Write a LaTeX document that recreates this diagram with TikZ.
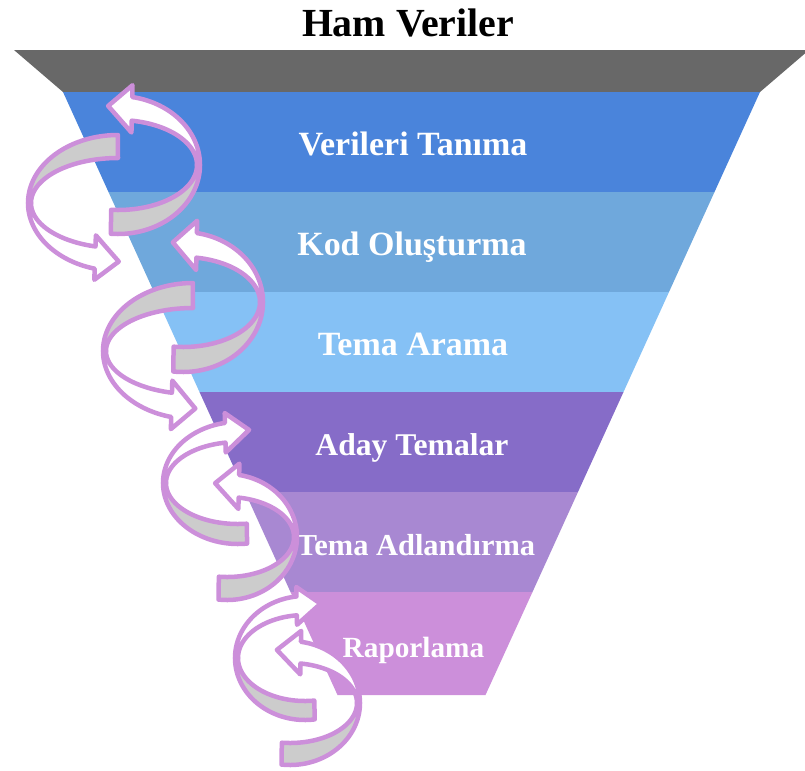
\documentclass[tikz,border=0pt]{standalone}
\usepackage{fontspec}
\setmainfont{Liberation Serif}
\usetikzlibrary{calc}
\definecolor{topgray}{HTML}{686868}
\definecolor{bandA}{HTML}{4A84DB}
\definecolor{bandB}{HTML}{6FA8DC}
\definecolor{bandC}{HTML}{85C1F5}
\definecolor{bandD}{HTML}{866CC8}
\definecolor{bandE}{HTML}{A888D2}
\definecolor{bandF}{HTML}{CC8FDA}
\definecolor{ribbonedge}{HTML}{CC8FDA}
\definecolor{ribbonfill}{HTML}{CCCCCC}
\begin{document}
\begin{tikzpicture}[x=0.03cm, y=-0.03cm, line join=round, line cap=round,
	backpart/.style={draw=ribbonedge, fill=ribbonfill, line width=1.35mm},
	frontpart/.style={draw=ribbonedge, fill=white, line width=1.35mm},
	stage/.style={text=white, font=\fontsize{#1}{#1}\selectfont\bfseries, anchor=base, inner sep=0pt}]
	\useasboundingbox (0,0) rectangle (805,770);
	\def\backhalf#1#2#3#4#5#6#7{%
		\draw[backpart] plot[domain=0:1, samples=40, variable=\s] ({#1+#3*cos(#6+(#7-#6)*\s)}, {#2+#4*sin(#6+(#7-#6)*\s)})
			-- plot[domain=0:1, samples=40, variable=\s] ({#1+(#3-3)*cos(#7+(#6-#7)*\s)}, {#2+#5*sin(#7+(#6-#7)*\s)}) -- cycle;}
	\def\fronthalf#1#2#3#4#5#6#7{%
		\pgfmathsetmacro\ox{#1+#3*cos(#7)}%
		\pgfmathsetmacro\oy{#2+#4*sin(#7)}%
		\pgfmathsetmacro\ix{#1+(#3-3)*cos(#7)}%
		\pgfmathsetmacro\iy{#2+#5*sin(#7)}%
		\pgfmathsetmacro\tang{atan2(sign(#7-#6)*0.5*(#4+#5)*cos(#7), -sign(#7-#6)*#3*sin(#7))}%
		\coordinate (tipout) at (\ox,\oy);
		\coordinate (tipin) at (\ix,\iy);
		\draw[frontpart] plot[domain=0:1, samples=40, variable=\s] ({#1+#3*cos(#6+(#7-#6)*\s)}, {#2+#4*sin(#6+(#7-#6)*\s)})
			-- ($(tipout)!-0.5!(tipin)$) -- ($(tipout)!0.5!(tipin)+(\tang:24)$) -- ($(tipin)!-0.5!(tipout)$) -- (tipin)
			-- plot[domain=0:1, samples=40, variable=\s] ({#1+(#3-3)*cos(#7+(#6-#7)*\s)}, {#2+#5*sin(#7+(#6-#7)*\s)}) -- cycle;}
	\coordinate (G1) at (14,50);
	\coordinate (G2) at (809,50);
	\coordinate (L0) at (63,92);
	\coordinate (R0) at (760,92);
	\coordinate (L1) at (108.5,192);
	\coordinate (R1) at (714.5,192);
	\coordinate (L2) at (154,292);
	\coordinate (R2) at (669,292);
	\coordinate (L3) at (199.5,392);
	\coordinate (R3) at (623.5,392);
	\coordinate (L4) at (245,492);
	\coordinate (R4) at (578,492);
	\coordinate (L5) at (290.5,592);
	\coordinate (R5) at (532.5,592);
	\coordinate (L6) at (337.5,695);
	\coordinate (R6) at (485.5,695);
	\fill[topgray] (G1)--(G2)--(R0)--(L0)--cycle;
	\fill[bandA] (L0)--(R0)--(R1)--(L1)--cycle;
	\fill[bandB] (L1)--(R1)--(R2)--(L2)--cycle;
	\fill[bandC] (L2)--(R2)--(R3)--(L3)--cycle;
	\fill[bandD] (L3)--(R3)--(R4)--(L4)--cycle;
	\fill[bandE] (L4)--(R4)--(R5)--(L5)--cycle;
	\fill[bandF] (L5)--(R5)--(R6)--(L6)--cycle;
	\node[anchor=base, inner sep=0pt, font=\fontsize{34}{40}\selectfont\bfseries] (ham) at (408,36) {Ham Veriler};
	\node[stage=29] (tanima) at (413,155) {Verileri Tanıma};
	\node[stage=29] (kod) at (412,255) {Kod Oluşturma};
	\node[stage=29] (arama) at (413,355) {Tema Arama};
	\node[stage=27] (aday) at (412,455) {Aday Temalar};
	\node[stage=26] (adlandirma) at (416,555) {Tema Adlandırma};
	\node[stage=25] (rapor) at (413.5,657) {Raporlama};
	\backhalf{118}{165}{82}{69}{45}{0}{95}
	\fronthalf{118}{165}{82}{69}{45}{0}{-80}
	\backhalf{118}{203}{90}{68}{45}{180}{270}
	\fronthalf{118}{203}{90}{68}{45}{180}{105}
	\backhalf{183}{302}{80}{70}{45}{0}{97}
	\fronthalf{183}{302}{80}{70}{45}{0}{-80}
	\backhalf{193}{351}{90}{68}{43}{180}{270}
	\fronthalf{193}{351}{90}{68}{43}{180}{104}
	\backhalf{238}{483}{75}{61}{41}{180}{83}
	\fronthalf{238}{483}{75}{61}{41}{180}{260}
	\backhalf{227}{537}{70}{63}{40}{0}{97}
	\fronthalf{227}{537}{70}{63}{40}{0}{-80}
	\backhalf{305}{658}{70}{62}{43}{180}{82}
	\fronthalf{305}{658}{70}{62}{43}{180}{263}
	\backhalf{290}{703}{70}{62}{40}{0}{97}
	\fronthalf{290}{703}{70}{62}{40}{0}{-81}
\end{tikzpicture}
\end{document}
